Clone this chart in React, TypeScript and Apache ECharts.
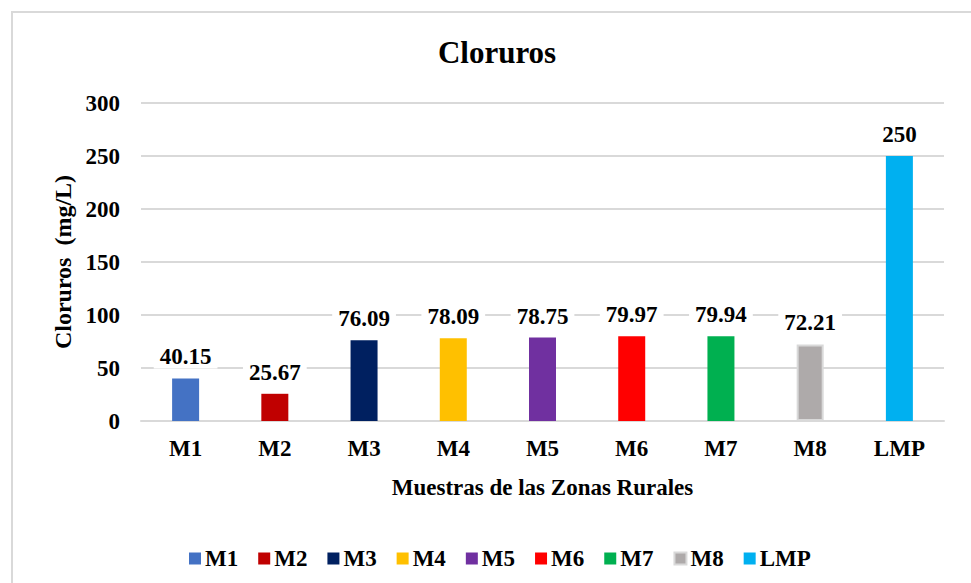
import React, { useEffect, useRef } from "react";
import * as echarts from "echarts";

const categories = ["M1", "M2", "M3", "M4", "M5", "M6", "M7", "M8", "LMP"];
const values = [40.15, 25.67, 76.09, 78.09, 78.75, 79.97, 79.94, 72.21, 250];
const labels = ["40.15", "25.67", "76.09", "78.09", "78.75", "79.97", "79.94", "72.21", "250"];
const colors = ["#4472C4", "#C00000", "#002060", "#FFC000", "#7030A0", "#FF0000", "#00B050", "#AEAAAA", "#00B0F0"];
const yTicks = [0, 50, 100, 150, 200, 250, 300];

const FONT = "'Liberation Serif', 'Times New Roman', serif";

export default function App() {
  const ref = useRef<HTMLDivElement>(null);
  useEffect(() => {
    if (!ref.current) return;
    const chart = echarts.init(ref.current, null, { renderer: "svg" });
    const series = categories.map((name, i) => ({
      name,
      type: "bar",
      barWidth: 27,
      barGap: "-100%",
      data: categories.map((_, j) => (j === i ? values[i] : "-")),
      itemStyle: {
        color: colors[i],
        borderColor: i === 7 ? "#d9d9d9" : colors[i],
        borderWidth: i === 7 ? 2 : 0,
      },
      label: {
        show: true,
        position: "top",
        distance: 10,
        formatter: () => labels[i],
        fontFamily: FONT,
        fontWeight: "bold",
        fontSize: 23,
        color: "#000",
        backgroundColor: "#fff",
        padding: [0, 6],
      },
    }));
    chart.setOption({
      animation: false,
      backgroundColor: "#fff",
      title: {
        text: "Cloruros",
        left: 492,
        top: 32,
        textAlign: "center",
        textStyle: { fontFamily: FONT, fontWeight: "bold", fontSize: 31, color: "#000" },
      },
      graphic: [
        {
          type: "rect",
          shape: { x: 12, y: 12, width: 1000, height: 600 },
          style: { fill: "none", stroke: "#d9d9d9", lineWidth: 2 },
          silent: true,
          z: -10,
        },
      ],
      legend: {
        left: 184,
        top: 542,
        itemWidth: 12,
        itemHeight: 12,
        itemGap: 20,
        icon: "rect",
        data: categories,
        textStyle: { fontFamily: FONT, fontWeight: "bold", fontSize: 23, color: "#000", padding: [0, 0, 0, -1] },
      },
      grid: { left: 141, right: 27, top: 103, bottom: 162, containLabel: false },
      xAxis: {
        type: "category",
        data: categories,
        name: "Muestras de las Zonas Rurales",
        nameLocation: "middle",
        nameGap: 55,
        nameTextStyle: { fontFamily: FONT, fontWeight: "bold", fontSize: 23, color: "#000" },
        axisLine: { lineStyle: { color: "#d9d9d9", width: 2 } },
        axisTick: { show: false },
        axisLabel: { fontFamily: FONT, fontWeight: "bold", fontSize: 23, color: "#000", margin: 16 },
      },
      yAxis: {
        type: "value",
        min: yTicks[0],
        max: yTicks[yTicks.length - 1],
        interval: 50,
        name: "Cloruros  (mg/L)",
        nameLocation: "middle",
        nameGap: 63,
        nameTextStyle: { fontFamily: FONT, fontWeight: "bold", fontSize: 24, color: "#000" },
        axisLine: { show: false },
        axisTick: { show: false },
        splitLine: { lineStyle: { color: "#d9d9d9", width: 2 } },
        axisLabel: { fontFamily: FONT, fontWeight: "bold", fontSize: 23, color: "#000", margin: 21 },
      },
      series,
    });
    return () => chart.dispose();
  }, []);
  return (
    <div
      ref={ref}
      style={{ position: "absolute", left: 0, top: 0, width: 971, height: 583 }}
    />
  );
}
